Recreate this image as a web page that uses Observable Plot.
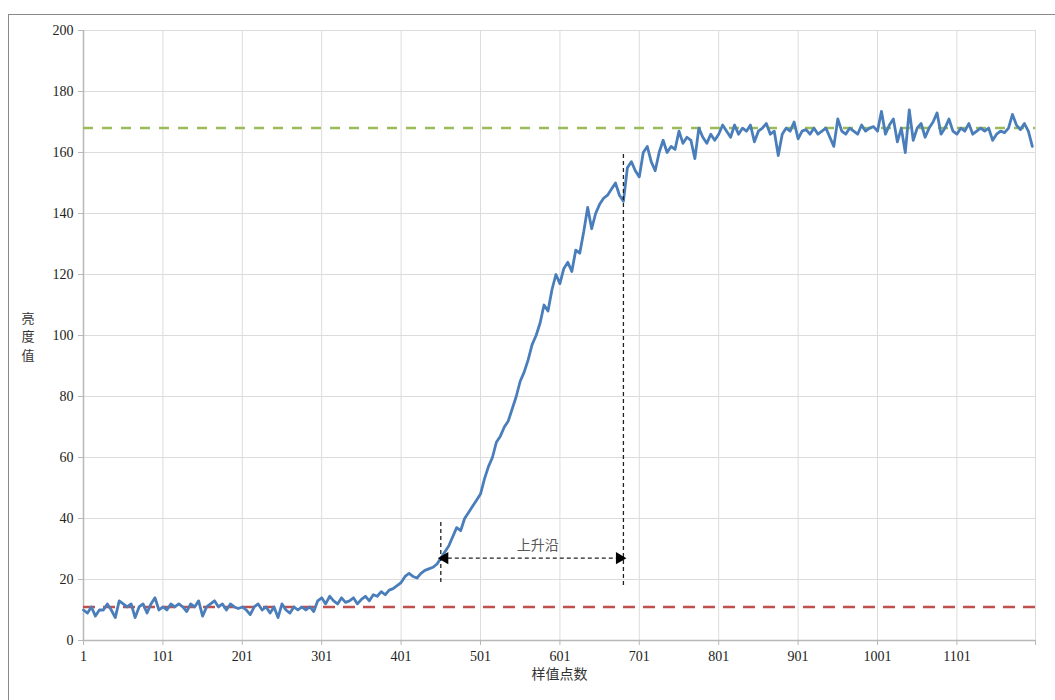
<!DOCTYPE html>
<html><head><meta charset="utf-8">
<script src="https://cdn.jsdelivr.net/npm/d3@7"></script>
<script src="https://cdn.jsdelivr.net/npm/@observablehq/plot@0.6"></script>
<style>
body{margin:0;background:#fff;}
#wrap{position:relative;width:1055px;height:700px;overflow:hidden;background:#fff;}
#frame{position:absolute;left:8px;top:14px;width:1100px;height:760px;border:1px solid #8a8a8a;}
#chart{position:absolute;left:0;top:0;}
</style></head><body>
<div id="wrap"><div id="frame"></div><div id="chart"></div></div>
<script>
// brightness samples every 5th sample point, starting at sample 1
const sampleStart = 1;
const sampleStep = 5;
const brightness = [
  10, 9, 11, 8, 10, 10, 12, 10, 7.5, 13, 12, 11, 12, 7.5, 11, 12, 9, 12, 14, 10,
  11, 10, 12, 11, 12, 11, 9.5, 12, 11, 13, 8, 11, 12, 13, 11, 12, 10, 12, 11, 10.5,
  11, 10, 8.5, 11, 12, 10, 11, 9, 11, 7.5, 12, 10, 9, 11, 10, 11, 10, 11, 9.5, 13,
  14, 12, 14.5, 13, 12, 14, 12.5, 13, 14, 12, 13.5, 14.5, 13, 15, 14.5, 16, 15, 16.5, 17, 18,
  19, 21, 22, 21, 20.5, 22, 23, 23.5, 24, 25, 27, 29, 31, 34, 37, 36, 40, 42, 44, 46,
  48, 53, 57, 60, 65, 67, 70, 72, 76, 80, 85, 88, 92, 97, 100, 104, 110, 108, 115, 120,
  117, 122, 124, 121, 128, 127, 134, 142, 135, 140, 143, 145, 146, 148, 150, 146, 144, 155, 157, 154,
  152, 160, 162, 157, 154, 160, 164, 160, 162, 161, 167, 163, 165, 164, 158, 168, 165, 163, 166, 164,
  166, 169, 167, 165, 169, 166, 168, 167, 169, 163.5, 167, 168, 169.5, 166, 167, 159, 166, 168, 167, 170,
  164.5, 167, 167.5, 166, 168, 166, 167, 168, 165, 162, 171, 167, 166, 168, 167, 166, 169, 167, 168, 168.5,
  167, 173.5, 166, 169, 171, 163.5, 168, 160, 174, 164, 168, 169.5, 165, 168, 170, 173, 166, 168, 171, 167,
  166, 168, 167, 169.5, 166, 167, 168, 167, 168, 164, 166, 167, 166.5, 168, 172.5, 169, 167.5, 169.5, 167, 162
];
const xTicks = [1, 101, 201, 301, 401, 501, 601, 701, 801, 901, 1001, 1101];
const xGrid = [1, 101, 201, 301, 401, 501, 601, 701, 801, 901, 1001, 1101, 1200];
const yTicks = [0, 20, 40, 60, 80, 100, 120, 140, 160, 180, 200];
const xDomain = [1, 1200];
const yDomain = [0, 200];
const upperLevel = [168];
const lowerLevel = [11];
const edgeMarkers = [
  {x: 451, y1: 19, y2: 39},
  {x: 681, y1: 18, y2: 160}
];
const edgeArrow = [{x1: 451, x2: 681, y: 27}];
const edgeLabel = [{x: 573, y: 31, text: "上升沿"}];
const yLabel = "亮\n度\n值";
const xLabel = "样值点数";

const series = brightness.map((v, i) => ({sample: sampleStart + i * sampleStep, value: v}));

const chart = Plot.plot({
  width: 1055,
  height: 700,
  marginLeft: 83,
  marginRight: 20,
  marginTop: 30,
  marginBottom: 60,
  style: {fontFamily: "'Liberation Serif', 'Noto Sans CJK SC', serif", fontSize: "14px", color: "#222", background: "transparent"},
  x: {domain: xDomain},
  y: {domain: yDomain},
  marks: [
    Plot.gridX(xGrid, {stroke: "#dcdcdc", strokeOpacity: 1}),
    Plot.gridY(yTicks, {stroke: "#dcdcdc", strokeOpacity: 1}),
    Plot.ruleX([xDomain[0]], {stroke: "#b8b8b8", strokeWidth: 1.5}),
    Plot.ruleY([yDomain[0]], {stroke: "#b8b8b8", strokeWidth: 1.5}),
    Plot.axisY(yTicks, {tickSize: 5, tickPadding: 5, stroke: "#b8b8b8", label: null, fontSize: 14, fill: "#222"}),
    Plot.axisX(xGrid, {tickSize: 5, tickPadding: 6, stroke: "#b8b8b8", label: null, tickFormat: d => xTicks.includes(d) ? String(d) : "", fontSize: 14, fill: "#222"}),
    Plot.text([xLabel], {frameAnchor: "bottom", dy: 38, fontFamily: "'Noto Sans CJK SC', sans-serif", fontSize: 14, fill: "#333"}),
    Plot.text([yLabel], {frameAnchor: "left", dx: -62, lineHeight: 1.4, fontFamily: "'Noto Sans CJK SC', sans-serif", fontSize: 13, fill: "#333"}),
    Plot.ruleY(upperLevel, {stroke: "#9bbb59", strokeWidth: 2.5, strokeDasharray: "10,9"}),
    Plot.ruleY(lowerLevel, {stroke: "#c0504d", strokeWidth: 2.5, strokeDasharray: "12,8"}),
    Plot.line(series, {x: "sample", y: "value", stroke: "#4a7ebb", strokeWidth: 2.8, strokeLinejoin: "round"}),
    Plot.ruleX(edgeMarkers, {x: "x", y1: "y1", y2: "y2", stroke: "#222", strokeWidth: 1.3, strokeDasharray: "4,3"}),
    Plot.link(edgeArrow, {x1: "x1", x2: "x2", y1: "y", y2: "y", stroke: "#222", strokeWidth: 1.3, strokeDasharray: "4,3"}),
    Plot.dot(edgeArrow, {x: "x1", y: "y", symbol: "triangle", r: 4.5, rotate: -90, dx: 4, fill: "#000", stroke: "none"}),
    Plot.dot(edgeArrow, {x: "x2", y: "y", symbol: "triangle", r: 4.5, rotate: 90, dx: -4, fill: "#000", stroke: "none"}),
    Plot.text(edgeLabel, {x: "x", y: "y", text: "text", fontFamily: "'Noto Sans CJK SC', sans-serif", fontSize: 14, fill: "#595959"})
  ]
});
document.getElementById("chart").appendChild(chart);
</script>
</body></html>
